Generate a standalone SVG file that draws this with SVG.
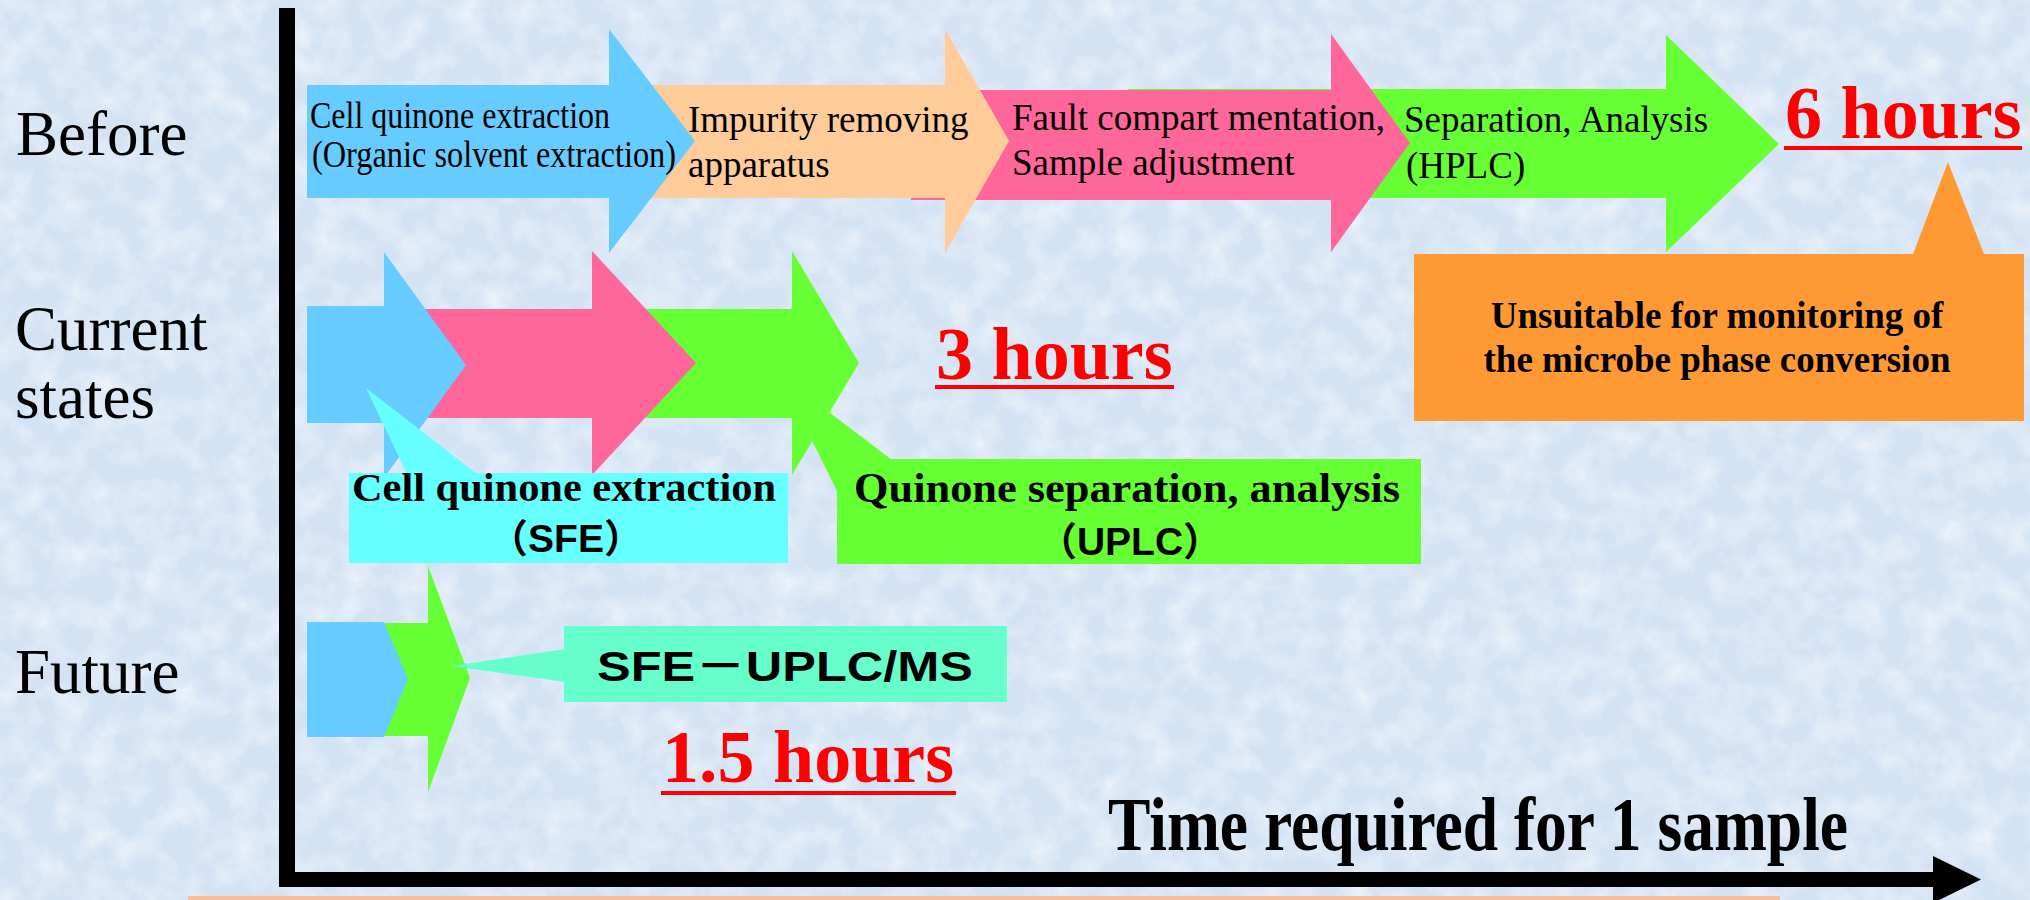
<svg xmlns="http://www.w3.org/2000/svg" width="2030" height="900" viewBox="0 0 2030 900">
  <defs>
    <filter id="tex" x="0" y="0" width="100%" height="100%">
      <feTurbulence type="fractalNoise" baseFrequency="0.035" numOctaves="4" seed="7" result="n"/>
      <feColorMatrix in="n" type="matrix" values="0 0 0 0 1  0 0 0 0 1  0 0 0 0 1  1.4 0 0 0 -0.55"/>
    </filter>
    <marker id="axisHead" viewBox="0 0 48 47" refX="2" refY="23.5" markerWidth="48" markerHeight="47" markerUnits="userSpaceOnUse" orient="auto">
      <path d="M0,0 L48,23.5 L0,47 Z" fill="#000"/>
    </marker>
  </defs>
  <style>
    .lbl { font-family: "Liberation Serif", "Times New Roman", serif; font-size: 63px; fill: #000; }
    .step { font-family: "Liberation Serif", "Times New Roman", serif; font-size: 37px; fill: #000; }
    .bold { font-family: "Liberation Serif", "Times New Roman", serif; font-weight: bold; fill: #000; }
    .sans { font-family: "Liberation Sans", "Noto Sans CJK JP", sans-serif; font-weight: bold; fill: #000; }
    .hours { font-family: "Liberation Serif", "Times New Roman", serif; font-weight: bold; font-size: 74px; fill: #FF0000; }
    .ul { fill: #FF0000; }
    .blue { fill: #66CCFF; }
    .peach { fill: #FFCC99; }
    .pink { fill: #FF6699; }
    .green { fill: #66FF33; }
    .orange { fill: #FF9933; }
    .cyan { fill: #66FFFF; }
    .mint { fill: #66FFCC; }
  </style>

  <rect x="0" y="0" width="2030" height="900" fill="#D4E3F4"/>
  <rect x="0" y="0" width="2030" height="900" filter="url(#tex)" opacity="0.75"/>
  <rect x="188" y="896" width="1592" height="4" fill="#F7C09C"/>

  <g id="row-labels">
    <text class="lbl" x="16" y="155">Before</text>
    <text class="lbl" x="15" y="350">Current</text>
    <text class="lbl" x="15" y="418">states</text>
    <text class="lbl" x="15" y="693">Future</text>
  </g>

  <g id="connectors">
    <rect x="279" y="8" width="16" height="879" fill="#000"/>
    <path d="M279,879.5 H1935" stroke="#000" stroke-width="15" fill="none" marker-end="url(#axisHead)"/>
  </g>

  <!-- Before row -->
  <g id="before-separation">
    <path class="green" d="M1128,89 H1666 V35 L1779,144 L1666,252 V198 H1128 Z"/>
    <text class="step" x="1404" y="132">Separation, Analysis</text>
    <text class="step" x="1406" y="178">(HPLC)</text>
  </g>
  <g id="before-fault">
    <path class="pink" d="M911,90 H1331 V34 L1410,143 L1331,252 V200 H911 Z"/>
    <text class="step" x="1012" y="130">Fault compart mentation,</text>
    <text class="step" x="1012" y="175">Sample adjustment</text>
  </g>
  <g id="before-impurity">
    <path class="peach" d="M640,85 H945 V29 L1009,141 L945,253 V198 H640 Z"/>
    <text class="step" x="688" y="132">Impurity removing</text>
    <text class="step" x="688" y="177">apparatus</text>
  </g>
  <g id="before-extraction">
    <path class="blue" d="M307,85 H609 V29 L695,141 L609,253 V198 H307 Z"/>
    <text class="step" x="310" y="128" font-size="32" textLength="300" lengthAdjust="spacingAndGlyphs">Cell quinone extraction</text>
    <text class="step" x="312" y="167" font-size="32" textLength="364" lengthAdjust="spacingAndGlyphs">(Organic solvent extraction)</text>
  </g>
  <g id="before-time">
    <text class="hours" x="1785" y="138">6 hours</text>
    <rect class="ul" x="1784" y="146" width="238" height="4"/>
  </g>
  <g id="callout-unsuitable">
    <path class="orange" d="M1414,254 H1913 L1948,162 L1984,254 H2024 V421 H1414 Z"/>
    <text class="bold" x="1717" y="328" font-size="37" text-anchor="middle">Unsuitable for monitoring of</text>
    <text class="bold" x="1717" y="372" font-size="37" text-anchor="middle">the microbe phase conversion</text>
  </g>

  <!-- Current row -->
  <g id="current-separation">
    <path class="green" d="M640,309 H792 V251 L859,363 L792,475 V418 H640 Z"/>
  </g>
  <g id="current-fault">
    <path class="pink" d="M420,309 H592 V251 L696,363 L592,475 V418 H420 Z"/>
  </g>
  <g id="current-extraction">
    <path class="blue" d="M307,306 H384 V252 L466,365 L384,478 V423 H307 Z"/>
  </g>
  <g id="callout-sfe">
    <polygon class="cyan" points="366,388 407,474 477,474"/>
    <rect class="cyan" x="349" y="473" width="439" height="90"/>
    <text class="bold" x="564" y="501" font-size="41" text-anchor="middle" textLength="424" lengthAdjust="spacingAndGlyphs">Cell quinone extraction</text>
    <text class="sans" x="566" y="552" font-size="39" text-anchor="middle">（SFE）</text>
  </g>
  <g id="callout-uplc">
    <polygon class="green" points="779,374 892,460 838,493"/>
    <rect class="green" x="837" y="459" width="584" height="105"/>
    <text class="bold" x="1127" y="502" font-size="42" text-anchor="middle" textLength="546" lengthAdjust="spacingAndGlyphs">Quinone separation, analysis</text>
    <text class="sans" x="1130" y="555" font-size="39" text-anchor="middle">（UPLC）</text>
  </g>
  <g id="current-time">
    <text class="hours" x="936" y="379">3 hours</text>
    <rect class="ul" x="935" y="385" width="239" height="4"/>
  </g>

  <!-- Future row -->
  <g id="future-analysis">
    <path class="green" d="M380,623 H428 V566 L470,678 L428,792 V736 H380 Z"/>
  </g>
  <g id="future-extraction">
    <path class="blue" d="M307,622 H384 L408,679 L384,737 H307 Z"/>
  </g>
  <g id="callout-sfe-uplc-ms">
    <polygon class="mint" points="451,666 565,649 565,682"/>
    <rect class="mint" x="564" y="626" width="443" height="76"/>
    <text class="sans" x="785" y="681" font-size="42" text-anchor="middle" textLength="376" lengthAdjust="spacingAndGlyphs">SFE－UPLC/MS</text>
  </g>
  <g id="future-time">
    <text class="hours" x="662" y="782">1.5 hours</text>
    <rect class="ul" x="661" y="791" width="295" height="4"/>
  </g>

  <g id="axis-label">
    <text class="bold" x="1108" y="850" font-size="76" textLength="740" lengthAdjust="spacingAndGlyphs">Time required for 1 sample</text>
  </g>
</svg>
